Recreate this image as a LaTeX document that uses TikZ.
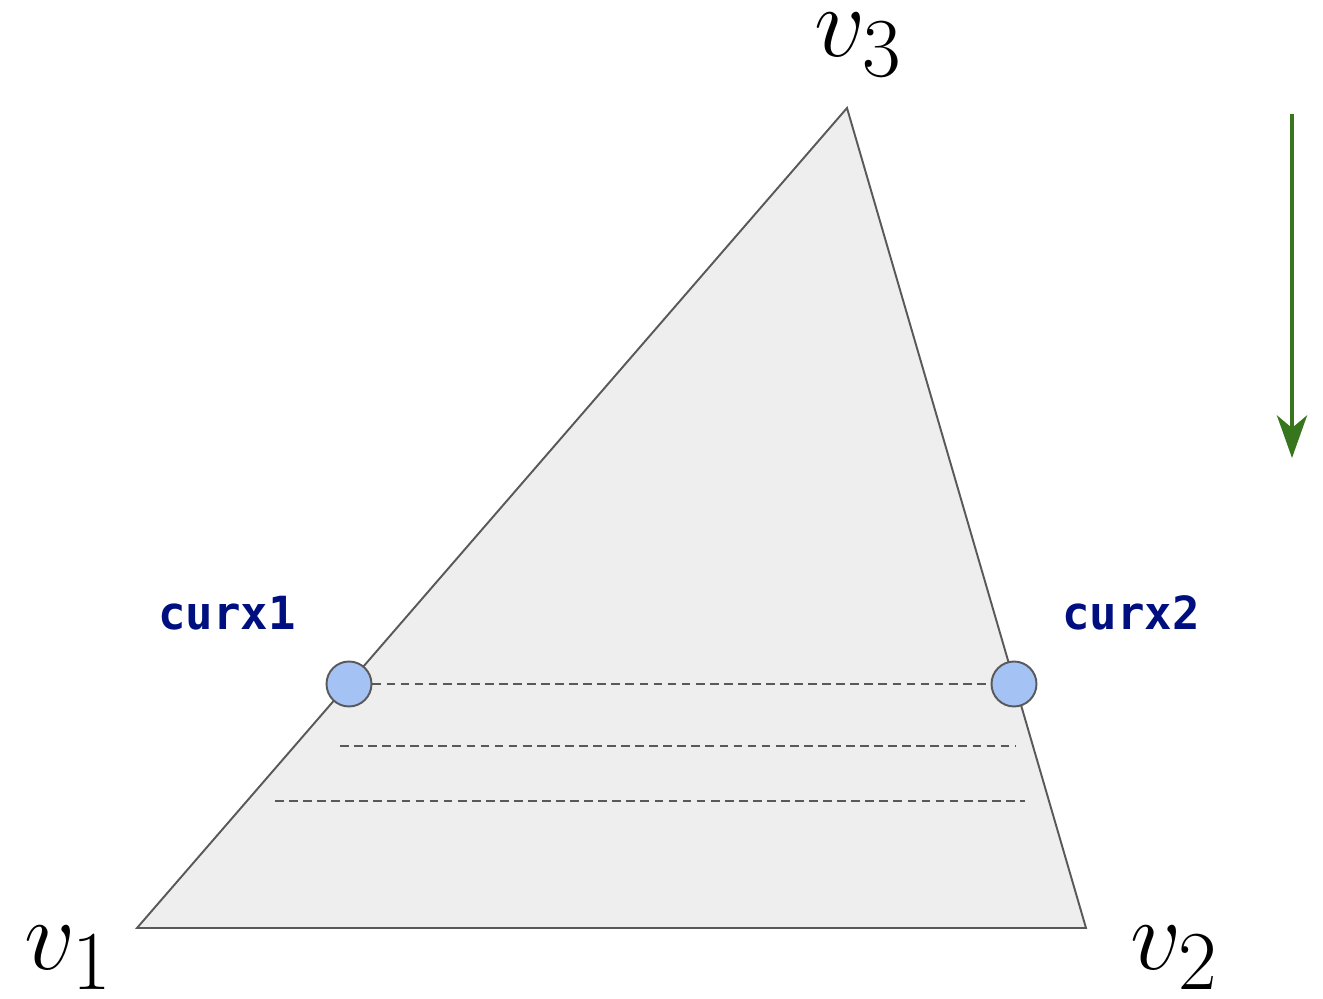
\documentclass[tikz,border=0pt]{standalone}
\usepackage{fontspec}
\newfontfamily\codefont{DejaVu Sans Mono}
\usetikzlibrary{arrows.meta,positioning}
\definecolor{edgegray}{HTML}{595959}
\definecolor{trifill}{HTML}{EEEEEE}
\definecolor{ptblue}{HTML}{A4C2F4}
\definecolor{codeblue}{HTML}{000F80}
\definecolor{arrgreen}{HTML}{38761D}
\newcommand{\vlab}[1]{\scalebox{2.3}{$v_{#1}$}}

\begin{document}
\begin{tikzpicture}[x={(0.02cm,0)}, y={(0,-0.02cm)},
  vlabel/.style={inner sep=0pt, font=\Huge},
  codelabel/.style={inner sep=0pt, text=codeblue, font=\codefont\bfseries\fontsize{26}{28}\selectfont},
  pt/.style={circle, draw=edgegray, line width=1.1pt, fill=ptblue, minimum size=0.9cm, inner sep=0pt},
  scan/.style={dashed, dash pattern=on 5pt off 3pt, draw=edgegray, line width=0.7pt}]
\useasboundingbox (0,0) rectangle (1323,999);
% triangle
\coordinate (v1) at (137,928);
\coordinate (v2) at (1086,928);
\coordinate (v3) at (847,108);
\draw[edgegray, fill=trifill, line width=1.1pt, line join=miter] (v1) -- (v2) -- (v3) -- cycle;
\node[vlabel] (l1) at (69,958) {\vlab{1}};
\node[vlabel] (l2) at (1175,958) {\vlab{2}};
\node[vlabel] (l3) at (859,45) {\vlab{3}};
% scanlines
\coordinate (s2a) at (340,746);
\coordinate (s2b) at (1015,746);
\coordinate (s3a) at (275,801);
\coordinate (s3b) at (1025,801);
\node[pt] (c1) at (349,684) {};
\node[pt] (c2) at (1014,684) {};
\draw[scan] (c1) -- (c2);
\draw[scan] (s2a) -- (s2b);
\draw[scan] (s3a) -- (s3b);
\node[codelabel] (cx1) at (227,613) {curx1};
\node[codelabel] (cx2) at (1131,613) {curx2};
% direction
\coordinate (a1) at (1292,114);
\coordinate (a2) at (1292,458);
\draw[arrgreen, line width=2.8pt, -{Stealth[length=0.85cm, width=0.6cm, inset=0.25cm]}] (a1) -- (a2);
\end{tikzpicture}
\end{document}
